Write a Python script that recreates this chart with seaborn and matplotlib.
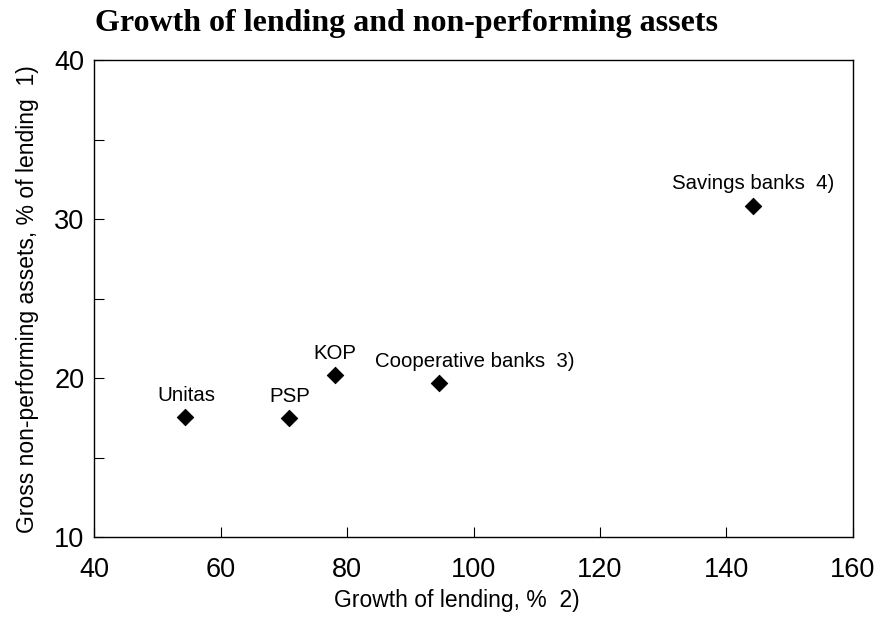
import matplotlib
matplotlib.use("Agg")
import matplotlib.pyplot as plt
import seaborn as sns
import pandas as pd

# data
banks = ["Unitas", "PSP", "KOP", "Cooperative banks  3)", "Savings banks  4)"]
growth = [54.4, 70.8, 78.1, 94.6, 144.2]
npa = [17.55, 17.5, 20.2, 19.7, 30.85]

df = pd.DataFrame({"bank": banks, "growth": growth, "npa": npa})

sns.set_style("white")
plt.rcParams["font.family"] = ["Liberation Sans", "DejaVu Sans"]
plt.rcParams["text.color"] = "black"
plt.rcParams["axes.labelcolor"] = "black"
plt.rcParams["xtick.color"] = "black"
plt.rcParams["ytick.color"] = "black"

fig = plt.figure(figsize=(8.83, 6.21), dpi=100)
ax = fig.add_axes([0.1065, 0.135, 0.8595, 0.768])

sns.scatterplot(data=df, x="growth", y="npa", marker="D", s=70,
                color="black", edgecolor="black", ax=ax, legend=False)

# label positions relative to the points (pixels)
offsets = {"Unitas": (1, 12), "PSP": (1, 12), "KOP": (0, 12),
           "Cooperative banks  3)": (35, 12), "Savings banks  4)": (0, 13)}
for _, r in df.iterrows():
    dx, dy = offsets[r["bank"]]
    ax.annotate(r["bank"], (r["growth"], r["npa"]), xytext=(dx, dy),
                textcoords="offset pixels", ha="center", va="bottom",
                fontsize=14.7, color="black")

ax.set_xlim(40, 160)
ax.set_ylim(10, 40)
ax.set_xticks([40, 60, 80, 100, 120, 140, 160])
ax.set_yticks([10, 15, 20, 25, 30, 35, 40])
ax.set_yticklabels(["10", "", "20", "", "30", "", "40"])
ax.tick_params(axis="x", direction="in", length=7, width=0.8, pad=14,
               labelsize=19.5, bottom=True)
ax.tick_params(axis="y", direction="in", length=7, width=0.8, pad=7,
               labelsize=19.5, left=True)

for sp in ax.spines.values():
    sp.set_color("black")
    sp.set_linewidth(1.0)

ax.set_xlabel("Growth of lending, %  2)", fontsize=16.5)
ax.xaxis.set_label_coords(0.478, -0.108)
ax.set_ylabel("Gross non-performing assets, % of lending  1)", fontsize=16.5,
              labelpad=11)

fig.text(0.1076, 0.950, "Growth of lending and non-performing assets",
         family="Liberation Serif", weight="bold", fontsize=23,
         ha="left", va="baseline")

fig.savefig("out.png", dpi=100, facecolor="white")
